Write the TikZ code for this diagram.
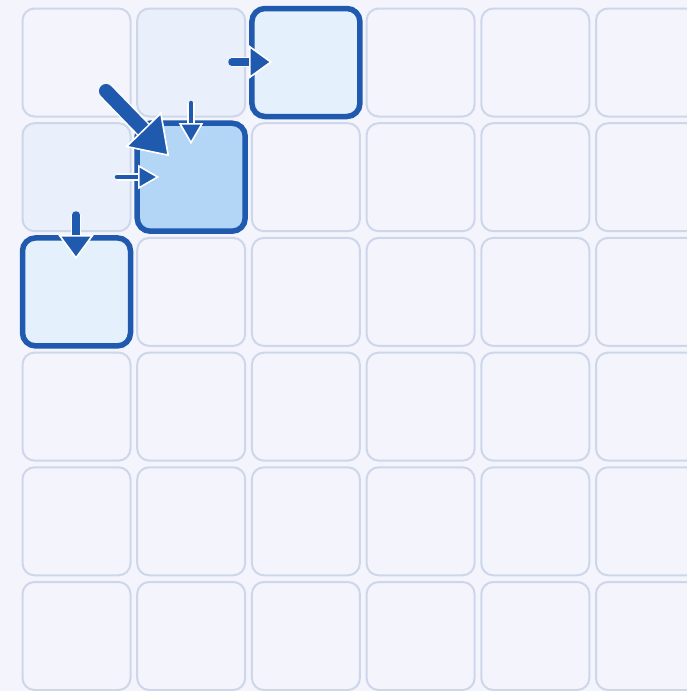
\documentclass[tikz,border=0pt]{standalone}
\usetikzlibrary{arrows.meta,positioning}
\definecolor{gridBack}{RGB}{243,244,252}
\definecolor{gridLine}{RGB}{206,215,234}
\definecolor{gridTint}{RGB}{233,239,251}
\definecolor{gridPick}{RGB}{229,240,253}
\definecolor{gridCenter}{RGB}{179,213,246}
\definecolor{gridBlue}{RGB}{32,90,174}

\begin{document}
\begin{tikzpicture}[
  x=1pt, y=-1pt,
  cell/.style={
    draw=gridLine,
    line width=2pt,
    rounded corners=12pt,
    fill=gridBack,
    minimum size=108pt,
    inner sep=0pt
  },
  picked/.style={draw=gridBlue,line width=5.5pt,rounded corners=13pt,fill=#1},
  cell 0-1/.style={fill=gridTint},
  cell 1-0/.style={fill=gridTint},
  cell 0-2/.style={picked=gridPick},
  cell 2-0/.style={picked=gridPick},
  cell 1-1/.style={picked=gridCenter},
  flow/.style args={#1/#2/#3}{
    gridBlue,
    line width=#1,
    line cap=round,
    -{Triangle[length=#2,width=#3,color=white,fill=gridBlue,line width=1.5pt]},
    preaction={draw=white,line width=#1+3pt}
  }
]
  \useasboundingbox (0,0) rectangle (687,691);
  \fill[gridBack] (0,0) rectangle (687,691);

  % 6 x 6 grid
  \foreach \r in {0,...,5}{
    \foreach \c in {0,...,5}{
      \node[cell,cell \r-\c/.try] (c\r\c) at ({76.5+114.7*\c},{62.5+114.7*\r}) {};
    }
  }

  % arrow ends
  \coordinate (bigTail) at (106,91);
  \coordinate (bigTip) at (169,156);
  \coordinate (downTail) at (191,103);
  \coordinate (downTip) at (191,144);
  \coordinate (rightTail) at (117,177);
  \coordinate (rightTip) at (159,177);
  \coordinate (topTail) at (232,62);
  \coordinate (topTip) at (272,62);
  \coordinate (leftTail) at (76,215);
  \coordinate (leftTip) at (76,259);

  \draw[flow=14pt/37pt/50pt] (bigTail) -- (bigTip);
  \draw[flow=4.5pt/21pt/24pt] (downTail) -- (downTip);
  \draw[flow=4.5pt/21pt/24pt] (rightTail) -- (rightTip);
  \draw[flow=7.5pt/23pt/33pt] (topTail) -- (topTip);
  \draw[flow=7.5pt/24pt/35pt] (leftTail) -- (leftTip);
\end{tikzpicture}
\end{document}
